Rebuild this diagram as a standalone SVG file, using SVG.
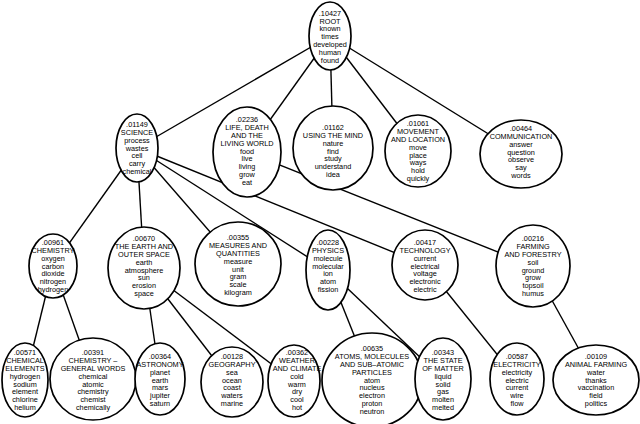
<svg xmlns="http://www.w3.org/2000/svg" width="640" height="424" viewBox="0 0 640 424">
<style>
.bg{fill:#fff}
.n ellipse{fill:#fff;stroke:#000;stroke-width:1.7}
.n text{font-family:"Liberation Sans",Arial,sans-serif;font-size:7.3px;fill:#000;text-anchor:middle}
#edges line{stroke:#000;stroke-width:1.4}
</style>
<rect class="bg" width="640" height="424"/>
<g id="edges">
<line x1="330" y1="36" x2="137" y2="148"/>
<line x1="330" y1="36" x2="247" y2="152"/>
<line x1="330" y1="36" x2="333" y2="148"/>
<line x1="330" y1="36" x2="418" y2="151"/>
<line x1="330" y1="36" x2="521" y2="154"/>
<line x1="137" y1="148" x2="53" y2="266"/>
<line x1="137" y1="148" x2="144" y2="268"/>
<line x1="137" y1="148" x2="238" y2="264"/>
<line x1="137" y1="148" x2="328" y2="270"/>
<line x1="137" y1="148" x2="425" y2="265"/>
<line x1="247" y1="152" x2="533" y2="266"/>
<line x1="53" y1="266" x2="25" y2="380"/>
<line x1="53" y1="266" x2="93" y2="379"/>
<line x1="144" y1="268" x2="160" y2="379"/>
<line x1="144" y1="268" x2="232" y2="382"/>
<line x1="144" y1="268" x2="294" y2="381"/>
<line x1="328" y1="270" x2="372" y2="380"/>
<line x1="328" y1="270" x2="443" y2="379"/>
<line x1="425" y1="265" x2="517" y2="379"/>
<line x1="533" y1="266" x2="596" y2="380"/>
</g>
<g id="root" class="n"><ellipse cx="330" cy="36" rx="21" ry="34"/>
<text y="15.7"><tspan x="330">.10427</tspan><tspan x="330" dy="7.8">ROOT</tspan><tspan x="330" dy="7.8">known</tspan><tspan x="330" dy="7.8">times</tspan><tspan x="330" dy="7.8">developed</tspan><tspan x="330" dy="7.8">human</tspan><tspan x="330" dy="7.8">found</tspan></text></g>
<g id="science" class="n"><ellipse cx="137" cy="148" rx="21" ry="34"/>
<text y="127.2"><tspan x="137">.01149</tspan><tspan x="137" dy="7.8">SCIENCE</tspan><tspan x="137" dy="7.8">process</tspan><tspan x="137" dy="7.8">wastes</tspan><tspan x="137" dy="7.8">cell</tspan><tspan x="137" dy="7.8">carry</tspan><tspan x="137" dy="7.8">chemical</tspan></text></g>
<g id="life" class="n"><ellipse cx="247" cy="152" rx="34" ry="45"/>
<text y="122.4"><tspan x="247">.02236</tspan><tspan x="247" dy="7.8">LIFE, DEATH</tspan><tspan x="247" dy="7.8">AND THE</tspan><tspan x="247" dy="7.8">LIVING WORLD</tspan><tspan x="247" dy="7.8">food</tspan><tspan x="247" dy="7.8">live</tspan><tspan x="247" dy="7.8">living</tspan><tspan x="247" dy="7.8">grow</tspan><tspan x="247" dy="7.8">eat</tspan></text></g>
<g id="mind" class="n"><ellipse cx="333" cy="148" rx="40" ry="42"/>
<text y="130.2"><tspan x="333">.01162</tspan><tspan x="333" dy="7.8">USING THE MIND</tspan><tspan x="333" dy="7.8">nature</tspan><tspan x="333" dy="7.8">find</tspan><tspan x="333" dy="7.8">study</tspan><tspan x="333" dy="7.8">understand</tspan><tspan x="333" dy="7.8">idea</tspan></text></g>
<g id="movement" class="n"><ellipse cx="418" cy="151" rx="33" ry="36"/>
<text y="126.3"><tspan x="418">.01061</tspan><tspan x="418" dy="7.8">MOVEMENT</tspan><tspan x="418" dy="7.8">AND LOCATION</tspan><tspan x="418" dy="7.8">move</tspan><tspan x="418" dy="7.8">place</tspan><tspan x="418" dy="7.8">ways</tspan><tspan x="418" dy="7.8">hold</tspan><tspan x="418" dy="7.8">quickly</tspan></text></g>
<g id="communication" class="n"><ellipse cx="521" cy="154" rx="41" ry="34"/>
<text y="131.2"><tspan x="521">.00464</tspan><tspan x="521" dy="7.8">COMMUNICATION</tspan><tspan x="521" dy="7.8">answer</tspan><tspan x="521" dy="7.8">question</tspan><tspan x="521" dy="7.8">observe</tspan><tspan x="521" dy="7.8">say</tspan><tspan x="521" dy="7.8">words</tspan></text></g>
<g id="chemistry" class="n"><ellipse cx="53" cy="266" rx="24" ry="32"/>
<text y="245.2"><tspan x="53">.00961</tspan><tspan x="53" dy="7.8">CHEMISTRY</tspan><tspan x="53" dy="7.8">oxygen</tspan><tspan x="53" dy="7.8">carbon</tspan><tspan x="53" dy="7.8">dioxide</tspan><tspan x="53" dy="7.8">nitrogen</tspan><tspan x="53" dy="7.8">hydrogen</tspan></text></g>
<g id="earth" class="n"><ellipse cx="144" cy="268" rx="36" ry="41"/>
<text y="241.3"><tspan x="144">.00670</tspan><tspan x="144" dy="7.8">THE EARTH AND</tspan><tspan x="144" dy="7.8">OUTER SPACE</tspan><tspan x="144" dy="7.8">earth</tspan><tspan x="144" dy="7.8">atmosphere</tspan><tspan x="144" dy="7.8">sun</tspan><tspan x="144" dy="7.8">erosion</tspan><tspan x="144" dy="7.8">space</tspan></text></g>
<g id="measures" class="n"><ellipse cx="238" cy="264" rx="43" ry="42"/>
<text y="240.3"><tspan x="238">.00355</tspan><tspan x="238" dy="7.8">MEASURES AND</tspan><tspan x="238" dy="7.8">QUANTITIES</tspan><tspan x="238" dy="7.8">measure</tspan><tspan x="238" dy="7.8">unit</tspan><tspan x="238" dy="7.8">gram</tspan><tspan x="238" dy="7.8">scale</tspan><tspan x="238" dy="7.8">kilogram</tspan></text></g>
<g id="physics" class="n"><ellipse cx="328" cy="270" rx="22" ry="40"/>
<text y="245.2"><tspan x="328">.00228</tspan><tspan x="328" dy="7.8">PHYSICS</tspan><tspan x="328" dy="7.8">molecule</tspan><tspan x="328" dy="7.8">molecular</tspan><tspan x="328" dy="7.8">ion</tspan><tspan x="328" dy="7.8">atom</tspan><tspan x="328" dy="7.8">fission</tspan></text></g>
<g id="technology" class="n"><ellipse cx="425" cy="265" rx="33" ry="35"/>
<text y="245.2"><tspan x="425">.00417</tspan><tspan x="425" dy="7.8">TECHNOLOGY</tspan><tspan x="425" dy="7.8">current</tspan><tspan x="425" dy="7.8">electrical</tspan><tspan x="425" dy="7.8">voltage</tspan><tspan x="425" dy="7.8">electronic</tspan><tspan x="425" dy="7.8">electric</tspan></text></g>
<g id="farming" class="n"><ellipse cx="533" cy="266" rx="37" ry="41"/>
<text y="241.3"><tspan x="533">.00216</tspan><tspan x="533" dy="7.8">FARMING</tspan><tspan x="533" dy="7.8">AND FORESTRY</tspan><tspan x="533" dy="7.8">soil</tspan><tspan x="533" dy="7.8">ground</tspan><tspan x="533" dy="7.8">grow</tspan><tspan x="533" dy="7.8">topsoil</tspan><tspan x="533" dy="7.8">humus</tspan></text></g>
<g id="elements" class="n"><ellipse cx="25" cy="380" rx="23" ry="37"/>
<text y="355.3"><tspan x="25">.00571</tspan><tspan x="25" dy="7.8">CHEMICAL</tspan><tspan x="25" dy="7.8">ELEMENTS</tspan><tspan x="25" dy="7.8">hydrogen</tspan><tspan x="25" dy="7.8">sodium</tspan><tspan x="25" dy="7.8">element</tspan><tspan x="25" dy="7.8">chlorine</tspan><tspan x="25" dy="7.8">helium</tspan></text></g>
<g id="chemgeneral" class="n"><ellipse cx="93" cy="379" rx="43" ry="41"/>
<text y="355.3"><tspan x="93">.00391</tspan><tspan x="93" dy="7.8">CHEMISTRY –</tspan><tspan x="93" dy="7.8">GENERAL WORDS</tspan><tspan x="93" dy="7.8">chemical</tspan><tspan x="93" dy="7.8">atomic</tspan><tspan x="93" dy="7.8">chemistry</tspan><tspan x="93" dy="7.8">chemist</tspan><tspan x="93" dy="7.8">chemically</tspan></text></g>
<g id="astronomy" class="n"><ellipse cx="160" cy="379" rx="25" ry="36"/>
<text y="359.2"><tspan x="160">.00364</tspan><tspan x="160" dy="7.8">ASTRONOMY</tspan><tspan x="160" dy="7.8">planet</tspan><tspan x="160" dy="7.8">earth</tspan><tspan x="160" dy="7.8">mars</tspan><tspan x="160" dy="7.8">jupiter</tspan><tspan x="160" dy="7.8">saturn</tspan></text></g>
<g id="geography" class="n"><ellipse cx="232" cy="382" rx="31" ry="35"/>
<text y="359.2"><tspan x="232">.00128</tspan><tspan x="232" dy="7.8">GEOGRAPHY</tspan><tspan x="232" dy="7.8">sea</tspan><tspan x="232" dy="7.8">ocean</tspan><tspan x="232" dy="7.8">coast</tspan><tspan x="232" dy="7.8">waters</tspan><tspan x="232" dy="7.8">marine</tspan></text></g>
<g id="weather" class="n"><ellipse cx="294" cy="381" rx="26" ry="36"/>
<text y="355.3"><tspan x="297">.00362</tspan><tspan x="297" dy="7.8">WEATHER</tspan><tspan x="297" dy="7.8">AND CLIMATE</tspan><tspan x="297" dy="7.8">cold</tspan><tspan x="297" dy="7.8">warm</tspan><tspan x="297" dy="7.8">dry</tspan><tspan x="297" dy="7.8">cool</tspan><tspan x="297" dy="7.8">hot</tspan></text></g>
<g id="atoms" class="n"><ellipse cx="372" cy="380" rx="50" ry="47"/>
<text y="351.4"><tspan x="372">.00635</tspan><tspan x="372" dy="7.8">ATOMS, MOLECULES</tspan><tspan x="372" dy="7.8">AND SUB–ATOMIC</tspan><tspan x="372" dy="7.8">PARTICLES</tspan><tspan x="372" dy="7.8">atom</tspan><tspan x="372" dy="7.8">nucleus</tspan><tspan x="372" dy="7.8">electron</tspan><tspan x="372" dy="7.8">proton</tspan><tspan x="372" dy="7.8">neutron</tspan></text></g>
<g id="state" class="n"><ellipse cx="443" cy="379" rx="28" ry="41"/>
<text y="355.3"><tspan x="443">.00343</tspan><tspan x="443" dy="7.8">THE STATE</tspan><tspan x="443" dy="7.8">OF MATTER</tspan><tspan x="443" dy="7.8">liquid</tspan><tspan x="443" dy="7.8">solid</tspan><tspan x="443" dy="7.8">gas</tspan><tspan x="443" dy="7.8">molten</tspan><tspan x="443" dy="7.8">melted</tspan></text></g>
<g id="electricity" class="n"><ellipse cx="517" cy="379" rx="27" ry="36"/>
<text y="359.2"><tspan x="517">.00587</tspan><tspan x="517" dy="7.8">ELECTRICITY</tspan><tspan x="517" dy="7.8">electricity</tspan><tspan x="517" dy="7.8">electric</tspan><tspan x="517" dy="7.8">current</tspan><tspan x="517" dy="7.8">wire</tspan><tspan x="517" dy="7.8">flow</tspan></text></g>
<g id="animal" class="n"><ellipse cx="596" cy="380" rx="43" ry="35"/>
<text y="359.2"><tspan x="596">.00109</tspan><tspan x="596" dy="7.8">ANIMAL FARMING</tspan><tspan x="596" dy="7.8">water</tspan><tspan x="596" dy="7.8">thanks</tspan><tspan x="596" dy="7.8">vaccination</tspan><tspan x="596" dy="7.8">field</tspan><tspan x="596" dy="7.8">politics</tspan></text></g>
</svg>
